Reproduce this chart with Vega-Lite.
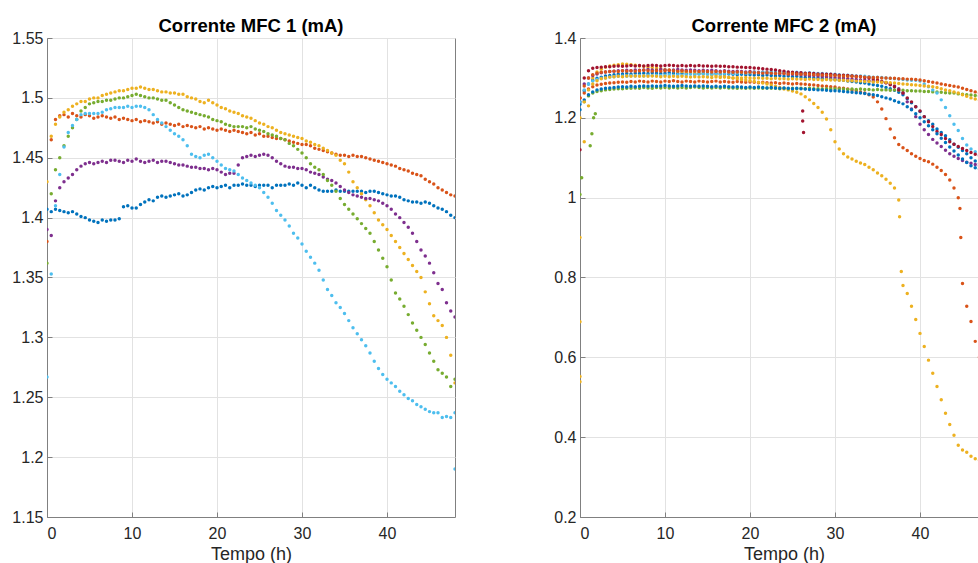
{
"$schema":"https://vega.github.io/schema/vega-lite/v6.json",
"background":"white",
"padding":{"left":11,"top":16,"right":0,"bottom":0},
"spacing":97,
"config":{
"font":"Liberation Sans",
"view":{"stroke":"#808080","strokeWidth":1},
"axis":{"labelFont":"Liberation Sans","labelFontSize":16,"labelColor":"#262626","titleFont":"Liberation Sans","titleFontSize":18,"titleFontWeight":"normal","titleColor":"#262626","domainColor":"#808080","tickColor":"#808080","gridColor":"#e2e2e2","tickSize":-5,"labelPadding":9},
"axisX":{"labelPadding":13},
"title":{"font":"Liberation Sans","fontSize":18.5,"fontWeight":"bold","color":"#000000","offset":-5}
},
"datasets":{
"m1":[
{"s":1,"t":0,"v":1.407},{"s":1,"t":0.5,"v":1.405},{"s":1,"t":1,"v":1.407},{"s":1,"t":1.5,"v":1.406},{"s":1,"t":2,"v":1.405},{"s":1,"t":2.5,"v":1.404},{"s":1,"t":3,"v":1.405},{"s":1,"t":3.5,"v":1.403},{"s":1,"t":4,"v":1.401},{"s":1,"t":4.5,"v":1.4},{"s":1,"t":5,"v":1.398},{"s":1,"t":5.5,"v":1.397},{"s":1,"t":6,"v":1.396},{"s":1,"t":6.5,"v":1.398},{"s":1,"t":7,"v":1.397},{"s":1,"t":7.5,"v":1.398},{"s":1,"t":8,"v":1.398},{"s":1,"t":8.5,"v":1.399},{"s":1,"t":9,"v":1.409},{"s":1,"t":9.5,"v":1.41},{"s":1,"t":10,"v":1.408},{"s":1,"t":10.5,"v":1.408},{"s":1,"t":11,"v":1.411},{"s":1,"t":11.5,"v":1.413},{"s":1,"t":12,"v":1.415},{"s":1,"t":12.5,"v":1.414},{"s":1,"t":13,"v":1.417},{"s":1,"t":13.5,"v":1.418},{"s":1,"t":14,"v":1.417},{"s":1,"t":14.5,"v":1.418},{"s":1,"t":15,"v":1.419},{"s":1,"t":15.5,"v":1.42},{"s":1,"t":16,"v":1.418},{"s":1,"t":16.5,"v":1.419},{"s":1,"t":17,"v":1.421},{"s":1,"t":17.5,"v":1.423},{"s":1,"t":18,"v":1.424},{"s":1,"t":18.5,"v":1.423},{"s":1,"t":19,"v":1.425},{"s":1,"t":19.5,"v":1.426},{"s":1,"t":20,"v":1.425},{"s":1,"t":20.5,"v":1.426},{"s":1,"t":21,"v":1.427},{"s":1,"t":21.5,"v":1.425},{"s":1,"t":22,"v":1.427},{"s":1,"t":22.5,"v":1.427},{"s":1,"t":23,"v":1.428},{"s":1,"t":23.5,"v":1.427},{"s":1,"t":24,"v":1.427},{"s":1,"t":24.5,"v":1.426},{"s":1,"t":25,"v":1.427},{"s":1,"t":25.5,"v":1.427},{"s":1,"t":26,"v":1.427},{"s":1,"t":26.5,"v":1.425},{"s":1,"t":27,"v":1.427},{"s":1,"t":27.5,"v":1.427},{"s":1,"t":28,"v":1.427},{"s":1,"t":28.5,"v":1.428},{"s":1,"t":29,"v":1.427},{"s":1,"t":29.5,"v":1.429},{"s":1,"t":30,"v":1.427},{"s":1,"t":30.5,"v":1.425},{"s":1,"t":31,"v":1.427},{"s":1,"t":31.5,"v":1.425},{"s":1,"t":32,"v":1.423},{"s":1,"t":32.5,"v":1.422},{"s":1,"t":33,"v":1.422},{"s":1,"t":33.5,"v":1.422},{"s":1,"t":34,"v":1.423},{"s":1,"t":34.5,"v":1.422},{"s":1,"t":35,"v":1.422},{"s":1,"t":35.5,"v":1.422},{"s":1,"t":36,"v":1.422},{"s":1,"t":36.5,"v":1.422},{"s":1,"t":37,"v":1.422},{"s":1,"t":37.5,"v":1.421},{"s":1,"t":38,"v":1.422},{"s":1,"t":38.5,"v":1.422},{"s":1,"t":39,"v":1.421},{"s":1,"t":39.5,"v":1.42},{"s":1,"t":40,"v":1.419},{"s":1,"t":40.5,"v":1.418},{"s":1,"t":41,"v":1.418},{"s":1,"t":41.5,"v":1.417},{"s":1,"t":42,"v":1.415},{"s":1,"t":42.5,"v":1.414},{"s":1,"t":43,"v":1.413},{"s":1,"t":43.5,"v":1.413},{"s":1,"t":44,"v":1.412},{"s":1,"t":44.5,"v":1.413},{"s":1,"t":45,"v":1.412},{"s":1,"t":45.5,"v":1.41},{"s":1,"t":46,"v":1.408},{"s":1,"t":46.5,"v":1.407},{"s":1,"t":47,"v":1.405},{"s":1,"t":47.5,"v":1.402},{"s":1,"t":48,"v":1.4},
{"s":2,"t":0,"v":1.38},{"s":2,"t":0.5,"v":1.465},{"s":2,"t":1,"v":1.482},{"s":2,"t":1.5,"v":1.485},{"s":2,"t":2,"v":1.486},{"s":2,"t":2.5,"v":1.484},{"s":2,"t":3,"v":1.487},{"s":2,"t":3.5,"v":1.485},{"s":2,"t":4,"v":1.484},{"s":2,"t":4.5,"v":1.486},{"s":2,"t":5,"v":1.485},{"s":2,"t":5.5,"v":1.483},{"s":2,"t":6,"v":1.484},{"s":2,"t":6.5,"v":1.485},{"s":2,"t":7,"v":1.484},{"s":2,"t":7.5,"v":1.483},{"s":2,"t":8,"v":1.484},{"s":2,"t":8.5,"v":1.482},{"s":2,"t":9,"v":1.483},{"s":2,"t":9.5,"v":1.482},{"s":2,"t":10,"v":1.481},{"s":2,"t":10.5,"v":1.482},{"s":2,"t":11,"v":1.48},{"s":2,"t":11.5,"v":1.481},{"s":2,"t":12,"v":1.48},{"s":2,"t":12.5,"v":1.479},{"s":2,"t":13,"v":1.48},{"s":2,"t":13.5,"v":1.478},{"s":2,"t":14,"v":1.479},{"s":2,"t":14.5,"v":1.478},{"s":2,"t":15,"v":1.477},{"s":2,"t":15.5,"v":1.478},{"s":2,"t":16,"v":1.476},{"s":2,"t":16.5,"v":1.477},{"s":2,"t":17,"v":1.476},{"s":2,"t":17.5,"v":1.475},{"s":2,"t":18,"v":1.476},{"s":2,"t":18.5,"v":1.474},{"s":2,"t":19,"v":1.475},{"s":2,"t":19.5,"v":1.474},{"s":2,"t":20,"v":1.473},{"s":2,"t":20.5,"v":1.474},{"s":2,"t":21,"v":1.473},{"s":2,"t":21.5,"v":1.472},{"s":2,"t":22,"v":1.473},{"s":2,"t":22.5,"v":1.472},{"s":2,"t":23,"v":1.471},{"s":2,"t":23.5,"v":1.47},{"s":2,"t":24,"v":1.471},{"s":2,"t":24.5,"v":1.469},{"s":2,"t":25,"v":1.47},{"s":2,"t":25.5,"v":1.468},{"s":2,"t":26,"v":1.468},{"s":2,"t":26.5,"v":1.467},{"s":2,"t":27,"v":1.466},{"s":2,"t":27.5,"v":1.466},{"s":2,"t":28,"v":1.465},{"s":2,"t":28.5,"v":1.464},{"s":2,"t":29,"v":1.463},{"s":2,"t":29.5,"v":1.462},{"s":2,"t":30,"v":1.461},{"s":2,"t":30.5,"v":1.461},{"s":2,"t":31,"v":1.46},{"s":2,"t":31.5,"v":1.458},{"s":2,"t":32,"v":1.457},{"s":2,"t":32.5,"v":1.456},{"s":2,"t":33,"v":1.455},{"s":2,"t":33.5,"v":1.454},{"s":2,"t":34,"v":1.453},{"s":2,"t":34.5,"v":1.452},{"s":2,"t":35,"v":1.452},{"s":2,"t":35.5,"v":1.451},{"s":2,"t":36,"v":1.452},{"s":2,"t":36.5,"v":1.451},{"s":2,"t":37,"v":1.451},{"s":2,"t":37.5,"v":1.45},{"s":2,"t":38,"v":1.449},{"s":2,"t":38.5,"v":1.448},{"s":2,"t":39,"v":1.447},{"s":2,"t":39.5,"v":1.446},{"s":2,"t":40,"v":1.445},{"s":2,"t":40.5,"v":1.444},{"s":2,"t":41,"v":1.443},{"s":2,"t":41.5,"v":1.441},{"s":2,"t":42,"v":1.44},{"s":2,"t":42.5,"v":1.439},{"s":2,"t":43,"v":1.437},{"s":2,"t":43.5,"v":1.436},{"s":2,"t":44,"v":1.435},{"s":2,"t":44.5,"v":1.432},{"s":2,"t":45,"v":1.43},{"s":2,"t":45.5,"v":1.428},{"s":2,"t":46,"v":1.425},{"s":2,"t":46.5,"v":1.423},{"s":2,"t":47,"v":1.421},{"s":2,"t":47.5,"v":1.419},{"s":2,"t":48,"v":1.418},
{"s":3,"t":0,"v":1.43},{"s":3,"t":0.5,"v":1.468},{"s":3,"t":1,"v":1.478},{"s":3,"t":1.5,"v":1.484},{"s":3,"t":2,"v":1.488},{"s":3,"t":2.5,"v":1.49},{"s":3,"t":3,"v":1.493},{"s":3,"t":3.5,"v":1.495},{"s":3,"t":4,"v":1.497},{"s":3,"t":4.5,"v":1.497},{"s":3,"t":5,"v":1.499},{"s":3,"t":5.5,"v":1.5},{"s":3,"t":6,"v":1.5},{"s":3,"t":6.5,"v":1.502},{"s":3,"t":7,"v":1.503},{"s":3,"t":7.5,"v":1.504},{"s":3,"t":8,"v":1.505},{"s":3,"t":8.5,"v":1.506},{"s":3,"t":9,"v":1.506},{"s":3,"t":9.5,"v":1.507},{"s":3,"t":10,"v":1.508},{"s":3,"t":10.5,"v":1.508},{"s":3,"t":11,"v":1.509},{"s":3,"t":11.5,"v":1.508},{"s":3,"t":12,"v":1.507},{"s":3,"t":12.5,"v":1.507},{"s":3,"t":13,"v":1.506},{"s":3,"t":13.5,"v":1.505},{"s":3,"t":14,"v":1.505},{"s":3,"t":14.5,"v":1.504},{"s":3,"t":15,"v":1.504},{"s":3,"t":15.5,"v":1.503},{"s":3,"t":16,"v":1.503},{"s":3,"t":16.5,"v":1.501},{"s":3,"t":17,"v":1.5},{"s":3,"t":17.5,"v":1.499},{"s":3,"t":18,"v":1.497},{"s":3,"t":18.5,"v":1.496},{"s":3,"t":19,"v":1.498},{"s":3,"t":19.5,"v":1.496},{"s":3,"t":20,"v":1.494},{"s":3,"t":20.5,"v":1.492},{"s":3,"t":21,"v":1.491},{"s":3,"t":21.5,"v":1.489},{"s":3,"t":22,"v":1.488},{"s":3,"t":22.5,"v":1.487},{"s":3,"t":23,"v":1.485},{"s":3,"t":23.5,"v":1.484},{"s":3,"t":24,"v":1.483},{"s":3,"t":24.5,"v":1.481},{"s":3,"t":25,"v":1.479},{"s":3,"t":25.5,"v":1.478},{"s":3,"t":26,"v":1.476},{"s":3,"t":26.5,"v":1.475},{"s":3,"t":27,"v":1.473},{"s":3,"t":27.5,"v":1.471},{"s":3,"t":28,"v":1.47},{"s":3,"t":28.5,"v":1.469},{"s":3,"t":29,"v":1.468},{"s":3,"t":29.5,"v":1.467},{"s":3,"t":30,"v":1.466},{"s":3,"t":30.5,"v":1.464},{"s":3,"t":31,"v":1.463},{"s":3,"t":31.5,"v":1.461},{"s":3,"t":32,"v":1.46},{"s":3,"t":32.5,"v":1.458},{"s":3,"t":33,"v":1.456},{"s":3,"t":33.5,"v":1.454},{"s":3,"t":34,"v":1.452},{"s":3,"t":34.5,"v":1.448},{"s":3,"t":35,"v":1.445},{"s":3,"t":35.5,"v":1.438},{"s":3,"t":36,"v":1.43},{"s":3,"t":36.5,"v":1.425},{"s":3,"t":37,"v":1.42},{"s":3,"t":37.5,"v":1.415},{"s":3,"t":38,"v":1.41},{"s":3,"t":38.5,"v":1.404},{"s":3,"t":39,"v":1.398},{"s":3,"t":39.5,"v":1.394},{"s":3,"t":40,"v":1.39},{"s":3,"t":40.5,"v":1.385},{"s":3,"t":41,"v":1.38},{"s":3,"t":41.5,"v":1.375},{"s":3,"t":42,"v":1.37},{"s":3,"t":42.5,"v":1.365},{"s":3,"t":43,"v":1.36},{"s":3,"t":43.5,"v":1.355},{"s":3,"t":44,"v":1.35},{"s":3,"t":44.5,"v":1.338},{"s":3,"t":45,"v":1.328},{"s":3,"t":45.5,"v":1.318},{"s":3,"t":46,"v":1.314},{"s":3,"t":46.5,"v":1.31},{"s":3,"t":47,"v":1.3},{"s":3,"t":47.5,"v":1.285},{"s":3,"t":48,"v":1.262},
{"s":4,"t":0,"v":1.39},{"s":4,"t":0.5,"v":1.385},{"s":4,"t":1,"v":1.414},{"s":4,"t":1.5,"v":1.425},{"s":4,"t":2,"v":1.43},{"s":4,"t":2.5,"v":1.433},{"s":4,"t":3,"v":1.436},{"s":4,"t":3.5,"v":1.44},{"s":4,"t":4,"v":1.443},{"s":4,"t":4.5,"v":1.445},{"s":4,"t":5,"v":1.446},{"s":4,"t":5.5,"v":1.445},{"s":4,"t":6,"v":1.446},{"s":4,"t":6.5,"v":1.447},{"s":4,"t":7,"v":1.446},{"s":4,"t":7.5,"v":1.448},{"s":4,"t":8,"v":1.448},{"s":4,"t":8.5,"v":1.447},{"s":4,"t":9,"v":1.446},{"s":4,"t":9.5,"v":1.448},{"s":4,"t":10,"v":1.447},{"s":4,"t":10.5,"v":1.449},{"s":4,"t":11,"v":1.447},{"s":4,"t":11.5,"v":1.446},{"s":4,"t":12,"v":1.447},{"s":4,"t":12.5,"v":1.448},{"s":4,"t":13,"v":1.446},{"s":4,"t":13.5,"v":1.447},{"s":4,"t":14,"v":1.447},{"s":4,"t":14.5,"v":1.446},{"s":4,"t":15,"v":1.445},{"s":4,"t":15.5,"v":1.444},{"s":4,"t":16,"v":1.444},{"s":4,"t":16.5,"v":1.443},{"s":4,"t":17,"v":1.442},{"s":4,"t":17.5,"v":1.442},{"s":4,"t":18,"v":1.441},{"s":4,"t":18.5,"v":1.441},{"s":4,"t":19,"v":1.44},{"s":4,"t":19.5,"v":1.441},{"s":4,"t":20,"v":1.44},{"s":4,"t":20.5,"v":1.438},{"s":4,"t":21,"v":1.436},{"s":4,"t":21.5,"v":1.437},{"s":4,"t":22,"v":1.437},{"s":4,"t":22.5,"v":1.444},{"s":4,"t":23,"v":1.45},{"s":4,"t":23.5,"v":1.451},{"s":4,"t":24,"v":1.452},{"s":4,"t":24.5,"v":1.451},{"s":4,"t":25,"v":1.452},{"s":4,"t":25.5,"v":1.453},{"s":4,"t":26,"v":1.452},{"s":4,"t":26.5,"v":1.45},{"s":4,"t":27,"v":1.447},{"s":4,"t":27.5,"v":1.445},{"s":4,"t":28,"v":1.443},{"s":4,"t":28.5,"v":1.442},{"s":4,"t":29,"v":1.442},{"s":4,"t":29.5,"v":1.441},{"s":4,"t":30,"v":1.441},{"s":4,"t":30.5,"v":1.44},{"s":4,"t":31,"v":1.438},{"s":4,"t":31.5,"v":1.437},{"s":4,"t":32,"v":1.436},{"s":4,"t":32.5,"v":1.434},{"s":4,"t":33,"v":1.432},{"s":4,"t":33.5,"v":1.431},{"s":4,"t":34,"v":1.429},{"s":4,"t":34.5,"v":1.426},{"s":4,"t":35,"v":1.423},{"s":4,"t":35.5,"v":1.421},{"s":4,"t":36,"v":1.419},{"s":4,"t":36.5,"v":1.418},{"s":4,"t":37,"v":1.417},{"s":4,"t":37.5,"v":1.416},{"s":4,"t":38,"v":1.416},{"s":4,"t":38.5,"v":1.415},{"s":4,"t":39,"v":1.414},{"s":4,"t":39.5,"v":1.412},{"s":4,"t":40,"v":1.41},{"s":4,"t":40.5,"v":1.407},{"s":4,"t":41,"v":1.403},{"s":4,"t":41.5,"v":1.4},{"s":4,"t":42,"v":1.396},{"s":4,"t":42.5,"v":1.392},{"s":4,"t":43,"v":1.387},{"s":4,"t":43.5,"v":1.38},{"s":4,"t":44,"v":1.373},{"s":4,"t":44.5,"v":1.368},{"s":4,"t":45,"v":1.362},{"s":4,"t":45.5,"v":1.354},{"s":4,"t":46,"v":1.345},{"s":4,"t":46.5,"v":1.34},{"s":4,"t":47,"v":1.329},{"s":4,"t":47.5,"v":1.322},{"s":4,"t":48,"v":1.317},
{"s":5,"t":0,"v":1.362},{"s":5,"t":0.5,"v":1.42},{"s":5,"t":1,"v":1.44},{"s":5,"t":1.5,"v":1.45},{"s":5,"t":2,"v":1.46},{"s":5,"t":2.5,"v":1.468},{"s":5,"t":3,"v":1.475},{"s":5,"t":3.5,"v":1.482},{"s":5,"t":4,"v":1.489},{"s":5,"t":4.5,"v":1.492},{"s":5,"t":5,"v":1.495},{"s":5,"t":5.5,"v":1.496},{"s":5,"t":6,"v":1.497},{"s":5,"t":6.5,"v":1.497},{"s":5,"t":7,"v":1.498},{"s":5,"t":7.5,"v":1.498},{"s":5,"t":8,"v":1.499},{"s":5,"t":8.5,"v":1.5},{"s":5,"t":9,"v":1.5},{"s":5,"t":9.5,"v":1.501},{"s":5,"t":10,"v":1.502},{"s":5,"t":10.5,"v":1.503},{"s":5,"t":11,"v":1.502},{"s":5,"t":11.5,"v":1.501},{"s":5,"t":12,"v":1.5},{"s":5,"t":12.5,"v":1.5},{"s":5,"t":13,"v":1.499},{"s":5,"t":13.5,"v":1.498},{"s":5,"t":14,"v":1.498},{"s":5,"t":14.5,"v":1.496},{"s":5,"t":15,"v":1.494},{"s":5,"t":15.5,"v":1.492},{"s":5,"t":16,"v":1.49},{"s":5,"t":16.5,"v":1.489},{"s":5,"t":17,"v":1.488},{"s":5,"t":17.5,"v":1.487},{"s":5,"t":18,"v":1.486},{"s":5,"t":18.5,"v":1.485},{"s":5,"t":19,"v":1.484},{"s":5,"t":19.5,"v":1.482},{"s":5,"t":20,"v":1.481},{"s":5,"t":20.5,"v":1.48},{"s":5,"t":21,"v":1.478},{"s":5,"t":21.5,"v":1.477},{"s":5,"t":22,"v":1.476},{"s":5,"t":22.5,"v":1.476},{"s":5,"t":23,"v":1.476},{"s":5,"t":23.5,"v":1.475},{"s":5,"t":24,"v":1.476},{"s":5,"t":24.5,"v":1.474},{"s":5,"t":25,"v":1.473},{"s":5,"t":25.5,"v":1.472},{"s":5,"t":26,"v":1.47},{"s":5,"t":26.5,"v":1.469},{"s":5,"t":27,"v":1.468},{"s":5,"t":27.5,"v":1.466},{"s":5,"t":28,"v":1.465},{"s":5,"t":28.5,"v":1.462},{"s":5,"t":29,"v":1.46},{"s":5,"t":29.5,"v":1.457},{"s":5,"t":30,"v":1.454},{"s":5,"t":30.5,"v":1.45},{"s":5,"t":31,"v":1.445},{"s":5,"t":31.5,"v":1.442},{"s":5,"t":32,"v":1.44},{"s":5,"t":32.5,"v":1.436},{"s":5,"t":33,"v":1.431},{"s":5,"t":33.5,"v":1.427},{"s":5,"t":34,"v":1.422},{"s":5,"t":34.5,"v":1.416},{"s":5,"t":35,"v":1.411},{"s":5,"t":35.5,"v":1.407},{"s":5,"t":36,"v":1.403},{"s":5,"t":36.5,"v":1.399},{"s":5,"t":37,"v":1.395},{"s":5,"t":37.5,"v":1.391},{"s":5,"t":38,"v":1.387},{"s":5,"t":38.5,"v":1.38},{"s":5,"t":39,"v":1.373},{"s":5,"t":39.5,"v":1.366},{"s":5,"t":40,"v":1.359},{"s":5,"t":40.5,"v":1.348},{"s":5,"t":41,"v":1.337},{"s":5,"t":41.5,"v":1.332},{"s":5,"t":42,"v":1.326},{"s":5,"t":42.5,"v":1.319},{"s":5,"t":43,"v":1.312},{"s":5,"t":43.5,"v":1.306},{"s":5,"t":44,"v":1.3},{"s":5,"t":44.5,"v":1.294},{"s":5,"t":45,"v":1.287},{"s":5,"t":45.5,"v":1.28},{"s":5,"t":46,"v":1.273},{"s":5,"t":46.5,"v":1.27},{"s":5,"t":47,"v":1.267},{"s":5,"t":47.5,"v":1.259},{"s":5,"t":48,"v":1.265},
{"s":6,"t":0,"v":1.267},{"s":6,"t":0.5,"v":1.353},{"s":6,"t":1,"v":1.41},{"s":6,"t":1.5,"v":1.436},{"s":6,"t":2,"v":1.459},{"s":6,"t":2.5,"v":1.471},{"s":6,"t":3,"v":1.477},{"s":6,"t":3.5,"v":1.482},{"s":6,"t":4,"v":1.486},{"s":6,"t":4.5,"v":1.487},{"s":6,"t":5,"v":1.487},{"s":6,"t":5.5,"v":1.487},{"s":6,"t":6,"v":1.487},{"s":6,"t":6.5,"v":1.488},{"s":6,"t":7,"v":1.49},{"s":6,"t":7.5,"v":1.491},{"s":6,"t":8,"v":1.492},{"s":6,"t":8.5,"v":1.492},{"s":6,"t":9,"v":1.492},{"s":6,"t":9.5,"v":1.493},{"s":6,"t":10,"v":1.492},{"s":6,"t":10.5,"v":1.493},{"s":6,"t":11,"v":1.493},{"s":6,"t":11.5,"v":1.492},{"s":6,"t":12,"v":1.49},{"s":6,"t":12.5,"v":1.486},{"s":6,"t":13,"v":1.482},{"s":6,"t":13.5,"v":1.479},{"s":6,"t":14,"v":1.476},{"s":6,"t":14.5,"v":1.473},{"s":6,"t":15,"v":1.47},{"s":6,"t":15.5,"v":1.468},{"s":6,"t":16,"v":1.465},{"s":6,"t":16.5,"v":1.46},{"s":6,"t":17,"v":1.453},{"s":6,"t":17.5,"v":1.451},{"s":6,"t":18,"v":1.45},{"s":6,"t":18.5,"v":1.452},{"s":6,"t":19,"v":1.453},{"s":6,"t":19.5,"v":1.45},{"s":6,"t":20,"v":1.447},{"s":6,"t":20.5,"v":1.444},{"s":6,"t":21,"v":1.441},{"s":6,"t":21.5,"v":1.44},{"s":6,"t":22,"v":1.439},{"s":6,"t":22.5,"v":1.436},{"s":6,"t":23,"v":1.433},{"s":6,"t":23.5,"v":1.431},{"s":6,"t":24,"v":1.429},{"s":6,"t":24.5,"v":1.427},{"s":6,"t":25,"v":1.425},{"s":6,"t":25.5,"v":1.421},{"s":6,"t":26,"v":1.417},{"s":6,"t":26.5,"v":1.412},{"s":6,"t":27,"v":1.406},{"s":6,"t":27.5,"v":1.402},{"s":6,"t":28,"v":1.398},{"s":6,"t":28.5,"v":1.393},{"s":6,"t":29,"v":1.387},{"s":6,"t":29.5,"v":1.383},{"s":6,"t":30,"v":1.378},{"s":6,"t":30.5,"v":1.372},{"s":6,"t":31,"v":1.367},{"s":6,"t":31.5,"v":1.362},{"s":6,"t":32,"v":1.356},{"s":6,"t":32.5,"v":1.348},{"s":6,"t":33,"v":1.34},{"s":6,"t":33.5,"v":1.335},{"s":6,"t":34,"v":1.329},{"s":6,"t":34.5,"v":1.325},{"s":6,"t":35,"v":1.32},{"s":6,"t":35.5,"v":1.314},{"s":6,"t":36,"v":1.308},{"s":6,"t":36.5,"v":1.303},{"s":6,"t":37,"v":1.298},{"s":6,"t":37.5,"v":1.293},{"s":6,"t":38,"v":1.287},{"s":6,"t":38.5,"v":1.28},{"s":6,"t":39,"v":1.274},{"s":6,"t":39.5,"v":1.269},{"s":6,"t":40,"v":1.265},{"s":6,"t":40.5,"v":1.262},{"s":6,"t":41,"v":1.259},{"s":6,"t":41.5,"v":1.255},{"s":6,"t":42,"v":1.252},{"s":6,"t":42.5,"v":1.249},{"s":6,"t":43,"v":1.247},{"s":6,"t":43.5,"v":1.244},{"s":6,"t":44,"v":1.242},{"s":6,"t":44.5,"v":1.24},{"s":6,"t":45,"v":1.238},{"s":6,"t":45.5,"v":1.237},{"s":6,"t":46,"v":1.237},{"s":6,"t":46.5,"v":1.233},{"s":6,"t":47,"v":1.234},{"s":6,"t":47.5,"v":1.233},{"s":6,"t":48,"v":1.237},{"s":6,"t":48,"v":1.19}
],
"m2":[
{"s":1,"t":0,"v":1.234},{"s":1,"t":0.5,"v":1.268},{"s":1,"t":1,"v":1.285},{"s":1,"t":1.5,"v":1.294},{"s":1,"t":2,"v":1.299},{"s":1,"t":2.5,"v":1.302},{"s":1,"t":3,"v":1.305},{"s":1,"t":3.5,"v":1.306},{"s":1,"t":4,"v":1.308},{"s":1,"t":4.5,"v":1.309},{"s":1,"t":5,"v":1.31},{"s":1,"t":5.5,"v":1.311},{"s":1,"t":6,"v":1.31},{"s":1,"t":6.5,"v":1.312},{"s":1,"t":7,"v":1.311},{"s":1,"t":7.5,"v":1.312},{"s":1,"t":8,"v":1.311},{"s":1,"t":8.5,"v":1.313},{"s":1,"t":9,"v":1.312},{"s":1,"t":9.5,"v":1.311},{"s":1,"t":10,"v":1.312},{"s":1,"t":10.5,"v":1.313},{"s":1,"t":11,"v":1.312},{"s":1,"t":11.5,"v":1.311},{"s":1,"t":12,"v":1.312},{"s":1,"t":12.5,"v":1.311},{"s":1,"t":13,"v":1.312},{"s":1,"t":13.5,"v":1.31},{"s":1,"t":14,"v":1.311},{"s":1,"t":14.5,"v":1.312},{"s":1,"t":15,"v":1.311},{"s":1,"t":15.5,"v":1.31},{"s":1,"t":16,"v":1.311},{"s":1,"t":16.5,"v":1.31},{"s":1,"t":17,"v":1.309},{"s":1,"t":17.5,"v":1.31},{"s":1,"t":18,"v":1.309},{"s":1,"t":18.5,"v":1.308},{"s":1,"t":19,"v":1.309},{"s":1,"t":19.5,"v":1.308},{"s":1,"t":20,"v":1.308},{"s":1,"t":20.5,"v":1.307},{"s":1,"t":21,"v":1.308},{"s":1,"t":21.5,"v":1.306},{"s":1,"t":22,"v":1.307},{"s":1,"t":22.5,"v":1.306},{"s":1,"t":23,"v":1.305},{"s":1,"t":23.5,"v":1.306},{"s":1,"t":24,"v":1.304},{"s":1,"t":24.5,"v":1.305},{"s":1,"t":25,"v":1.303},{"s":1,"t":25.5,"v":1.304},{"s":1,"t":26,"v":1.302},{"s":1,"t":26.5,"v":1.301},{"s":1,"t":27,"v":1.302},{"s":1,"t":27.5,"v":1.3},{"s":1,"t":28,"v":1.3},{"s":1,"t":28.5,"v":1.299},{"s":1,"t":29,"v":1.298},{"s":1,"t":29.5,"v":1.297},{"s":1,"t":30,"v":1.296},{"s":1,"t":30.5,"v":1.295},{"s":1,"t":31,"v":1.294},{"s":1,"t":31.5,"v":1.292},{"s":1,"t":32,"v":1.291},{"s":1,"t":32.5,"v":1.29},{"s":1,"t":33,"v":1.288},{"s":1,"t":33.5,"v":1.287},{"s":1,"t":34,"v":1.285},{"s":1,"t":34.5,"v":1.283},{"s":1,"t":35,"v":1.281},{"s":1,"t":35.5,"v":1.279},{"s":1,"t":36,"v":1.276},{"s":1,"t":36.5,"v":1.273},{"s":1,"t":37,"v":1.269},{"s":1,"t":37.5,"v":1.264},{"s":1,"t":38,"v":1.258},{"s":1,"t":38.5,"v":1.248},{"s":1,"t":39,"v":1.238},{"s":1,"t":39.5,"v":1.228},{"s":1,"t":40,"v":1.216},{"s":1,"t":40.5,"v":1.203},{"s":1,"t":41,"v":1.193},{"s":1,"t":41.5,"v":1.184},{"s":1,"t":42,"v":1.172},{"s":1,"t":42.5,"v":1.163},{"s":1,"t":43,"v":1.155},{"s":1,"t":43.5,"v":1.145},{"s":1,"t":44,"v":1.134},{"s":1,"t":44.5,"v":1.126},{"s":1,"t":45,"v":1.118},{"s":1,"t":45.5,"v":1.11},{"s":1,"t":46,"v":1.1},{"s":1,"t":46.5,"v":1.092},{"s":1,"t":47,"v":1.085},{"s":1,"t":47.5,"v":1.08},{"s":1,"t":48,"v":1.075},
{"s":2,"t":0,"v":1.25},{"s":2,"t":0.5,"v":1.262},{"s":2,"t":1,"v":1.272},{"s":2,"t":1.5,"v":1.278},{"s":2,"t":2,"v":1.282},{"s":2,"t":2.5,"v":1.284},{"s":2,"t":3,"v":1.286},{"s":2,"t":3.5,"v":1.287},{"s":2,"t":4,"v":1.288},{"s":2,"t":4.5,"v":1.289},{"s":2,"t":5,"v":1.29},{"s":2,"t":5.5,"v":1.289},{"s":2,"t":6,"v":1.291},{"s":2,"t":6.5,"v":1.29},{"s":2,"t":7,"v":1.292},{"s":2,"t":7.5,"v":1.291},{"s":2,"t":8,"v":1.29},{"s":2,"t":8.5,"v":1.292},{"s":2,"t":9,"v":1.291},{"s":2,"t":9.5,"v":1.29},{"s":2,"t":10,"v":1.292},{"s":2,"t":10.5,"v":1.291},{"s":2,"t":11,"v":1.293},{"s":2,"t":11.5,"v":1.291},{"s":2,"t":12,"v":1.29},{"s":2,"t":12.5,"v":1.292},{"s":2,"t":13,"v":1.291},{"s":2,"t":13.5,"v":1.29},{"s":2,"t":14,"v":1.292},{"s":2,"t":14.5,"v":1.291},{"s":2,"t":15,"v":1.29},{"s":2,"t":15.5,"v":1.291},{"s":2,"t":16,"v":1.292},{"s":2,"t":16.5,"v":1.29},{"s":2,"t":17,"v":1.291},{"s":2,"t":17.5,"v":1.29},{"s":2,"t":18,"v":1.289},{"s":2,"t":18.5,"v":1.291},{"s":2,"t":19,"v":1.29},{"s":2,"t":19.5,"v":1.289},{"s":2,"t":20,"v":1.29},{"s":2,"t":20.5,"v":1.289},{"s":2,"t":21,"v":1.288},{"s":2,"t":21.5,"v":1.289},{"s":2,"t":22,"v":1.288},{"s":2,"t":22.5,"v":1.287},{"s":2,"t":23,"v":1.288},{"s":2,"t":23.5,"v":1.286},{"s":2,"t":24,"v":1.287},{"s":2,"t":24.5,"v":1.286},{"s":2,"t":25,"v":1.285},{"s":2,"t":25.5,"v":1.286},{"s":2,"t":26,"v":1.285},{"s":2,"t":26.5,"v":1.284},{"s":2,"t":27,"v":1.283},{"s":2,"t":27.5,"v":1.282},{"s":2,"t":28,"v":1.281},{"s":2,"t":28.5,"v":1.28},{"s":2,"t":29,"v":1.279},{"s":2,"t":29.5,"v":1.278},{"s":2,"t":30,"v":1.277},{"s":2,"t":30.5,"v":1.275},{"s":2,"t":31,"v":1.274},{"s":2,"t":31.5,"v":1.272},{"s":2,"t":32,"v":1.27},{"s":2,"t":32.5,"v":1.268},{"s":2,"t":33,"v":1.265},{"s":2,"t":33.5,"v":1.262},{"s":2,"t":34,"v":1.258},{"s":2,"t":34.5,"v":1.252},{"s":2,"t":35,"v":1.24},{"s":2,"t":35.5,"v":1.222},{"s":2,"t":36,"v":1.198},{"s":2,"t":36.5,"v":1.172},{"s":2,"t":37,"v":1.15},{"s":2,"t":37.5,"v":1.133},{"s":2,"t":38,"v":1.125},{"s":2,"t":38.5,"v":1.118},{"s":2,"t":39,"v":1.11},{"s":2,"t":39.5,"v":1.104},{"s":2,"t":40,"v":1.098},{"s":2,"t":40.5,"v":1.093},{"s":2,"t":41,"v":1.09},{"s":2,"t":41.5,"v":1.084},{"s":2,"t":42,"v":1.076},{"s":2,"t":42.5,"v":1.068},{"s":2,"t":43,"v":1.058},{"s":2,"t":43.5,"v":1.044},{"s":2,"t":44,"v":1.024},{"s":2,"t":44.5,"v":1.0},{"s":2,"t":44.7,"v":0.973},{"s":2,"t":44.8,"v":0.9},{"s":2,"t":45,"v":0.785},{"s":2,"t":45.5,"v":0.728},{"s":2,"t":46,"v":0.69},{"s":2,"t":46.5,"v":0.64},{"s":2,"t":47,"v":0.6},{"s":2,"t":47.5,"v":0.56},{"s":2,"t":48,"v":0.52},
{"s":3,"t":0,"v":0.9},{"s":3,"t":0,"v":0.689},{"s":3,"t":0,"v":0.552},{"s":3,"t":0,"v":0.539},{"s":3,"t":0.5,"v":1.14},{"s":3,"t":1,"v":1.23},{"s":3,"t":1.5,"v":1.3},{"s":3,"t":2,"v":1.315},{"s":3,"t":2.5,"v":1.322},{"s":3,"t":3,"v":1.327},{"s":3,"t":3.5,"v":1.33},{"s":3,"t":4,"v":1.332},{"s":3,"t":4.5,"v":1.333},{"s":3,"t":5,"v":1.335},{"s":3,"t":5.5,"v":1.334},{"s":3,"t":6,"v":1.333},{"s":3,"t":6.5,"v":1.332},{"s":3,"t":7,"v":1.33},{"s":3,"t":7.5,"v":1.329},{"s":3,"t":8,"v":1.327},{"s":3,"t":8.5,"v":1.326},{"s":3,"t":9,"v":1.324},{"s":3,"t":9.5,"v":1.323},{"s":3,"t":10,"v":1.321},{"s":3,"t":10.5,"v":1.32},{"s":3,"t":11,"v":1.318},{"s":3,"t":11.5,"v":1.317},{"s":3,"t":12,"v":1.316},{"s":3,"t":12.5,"v":1.314},{"s":3,"t":13,"v":1.313},{"s":3,"t":13.5,"v":1.312},{"s":3,"t":14,"v":1.311},{"s":3,"t":14.5,"v":1.31},{"s":3,"t":15,"v":1.309},{"s":3,"t":15.5,"v":1.307},{"s":3,"t":16,"v":1.306},{"s":3,"t":16.5,"v":1.304},{"s":3,"t":17,"v":1.303},{"s":3,"t":17.5,"v":1.301},{"s":3,"t":18,"v":1.3},{"s":3,"t":18.5,"v":1.298},{"s":3,"t":19,"v":1.296},{"s":3,"t":19.5,"v":1.295},{"s":3,"t":20,"v":1.293},{"s":3,"t":20.5,"v":1.291},{"s":3,"t":21,"v":1.289},{"s":3,"t":21.5,"v":1.287},{"s":3,"t":22,"v":1.285},{"s":3,"t":22.5,"v":1.282},{"s":3,"t":23,"v":1.279},{"s":3,"t":23.5,"v":1.276},{"s":3,"t":24,"v":1.272},{"s":3,"t":24.5,"v":1.27},{"s":3,"t":25,"v":1.267},{"s":3,"t":25.5,"v":1.264},{"s":3,"t":26,"v":1.26},{"s":3,"t":26.5,"v":1.253},{"s":3,"t":27,"v":1.245},{"s":3,"t":27.5,"v":1.236},{"s":3,"t":28,"v":1.226},{"s":3,"t":28.5,"v":1.214},{"s":3,"t":29,"v":1.197},{"s":3,"t":29.5,"v":1.17},{"s":3,"t":30,"v":1.14},{"s":3,"t":30.5,"v":1.122},{"s":3,"t":31,"v":1.11},{"s":3,"t":31.5,"v":1.102},{"s":3,"t":32,"v":1.097},{"s":3,"t":32.5,"v":1.091},{"s":3,"t":33,"v":1.087},{"s":3,"t":33.5,"v":1.083},{"s":3,"t":34,"v":1.076},{"s":3,"t":34.5,"v":1.07},{"s":3,"t":35,"v":1.062},{"s":3,"t":35.5,"v":1.055},{"s":3,"t":36,"v":1.046},{"s":3,"t":36.5,"v":1.036},{"s":3,"t":37,"v":1.024},{"s":3,"t":37.5,"v":0.994},{"s":3,"t":37.6,"v":0.952},{"s":3,"t":37.8,"v":0.815},{"s":3,"t":38,"v":0.78},{"s":3,"t":38.5,"v":0.76},{"s":3,"t":39,"v":0.728},{"s":3,"t":39.5,"v":0.695},{"s":3,"t":40,"v":0.66},{"s":3,"t":40.5,"v":0.627},{"s":3,"t":41,"v":0.593},{"s":3,"t":41.5,"v":0.56},{"s":3,"t":42,"v":0.527},{"s":3,"t":42.5,"v":0.494},{"s":3,"t":43,"v":0.46},{"s":3,"t":43.5,"v":0.432},{"s":3,"t":44,"v":0.405},{"s":3,"t":44.5,"v":0.38},{"s":3,"t":45,"v":0.368},{"s":3,"t":45.5,"v":0.362},{"s":3,"t":46,"v":0.352},{"s":3,"t":46.5,"v":0.346},{"s":3,"t":47,"v":0.342},{"s":3,"t":47.5,"v":0.339},{"s":3,"t":48,"v":0.336},
{"s":4,"t":0,"v":1.24},{"s":4,"t":0.5,"v":1.285},{"s":4,"t":1,"v":1.3},{"s":4,"t":1.5,"v":1.306},{"s":4,"t":2,"v":1.31},{"s":4,"t":2.5,"v":1.313},{"s":4,"t":3,"v":1.315},{"s":4,"t":3.5,"v":1.316},{"s":4,"t":4,"v":1.317},{"s":4,"t":4.5,"v":1.318},{"s":4,"t":5,"v":1.318},{"s":4,"t":5.5,"v":1.319},{"s":4,"t":6,"v":1.318},{"s":4,"t":6.5,"v":1.32},{"s":4,"t":7,"v":1.319},{"s":4,"t":7.5,"v":1.32},{"s":4,"t":8,"v":1.321},{"s":4,"t":8.5,"v":1.32},{"s":4,"t":9,"v":1.319},{"s":4,"t":9.5,"v":1.321},{"s":4,"t":10,"v":1.32},{"s":4,"t":10.5,"v":1.319},{"s":4,"t":11,"v":1.32},{"s":4,"t":11.5,"v":1.321},{"s":4,"t":12,"v":1.32},{"s":4,"t":12.5,"v":1.319},{"s":4,"t":13,"v":1.32},{"s":4,"t":13.5,"v":1.319},{"s":4,"t":14,"v":1.318},{"s":4,"t":14.5,"v":1.319},{"s":4,"t":15,"v":1.318},{"s":4,"t":15.5,"v":1.319},{"s":4,"t":16,"v":1.318},{"s":4,"t":16.5,"v":1.317},{"s":4,"t":17,"v":1.318},{"s":4,"t":17.5,"v":1.317},{"s":4,"t":18,"v":1.316},{"s":4,"t":18.5,"v":1.317},{"s":4,"t":19,"v":1.316},{"s":4,"t":19.5,"v":1.315},{"s":4,"t":20,"v":1.316},{"s":4,"t":20.5,"v":1.315},{"s":4,"t":21,"v":1.314},{"s":4,"t":21.5,"v":1.314},{"s":4,"t":22,"v":1.313},{"s":4,"t":22.5,"v":1.313},{"s":4,"t":23,"v":1.312},{"s":4,"t":23.5,"v":1.311},{"s":4,"t":24,"v":1.311},{"s":4,"t":24.5,"v":1.31},{"s":4,"t":25,"v":1.309},{"s":4,"t":25.5,"v":1.309},{"s":4,"t":26,"v":1.308},{"s":4,"t":26.5,"v":1.307},{"s":4,"t":27,"v":1.306},{"s":4,"t":27.5,"v":1.306},{"s":4,"t":28,"v":1.305},{"s":4,"t":28.5,"v":1.304},{"s":4,"t":29,"v":1.303},{"s":4,"t":29.5,"v":1.302},{"s":4,"t":30,"v":1.301},{"s":4,"t":30.5,"v":1.3},{"s":4,"t":31,"v":1.299},{"s":4,"t":31.5,"v":1.298},{"s":4,"t":32,"v":1.297},{"s":4,"t":32.5,"v":1.296},{"s":4,"t":33,"v":1.295},{"s":4,"t":33.5,"v":1.294},{"s":4,"t":34,"v":1.293},{"s":4,"t":34.5,"v":1.292},{"s":4,"t":35,"v":1.291},{"s":4,"t":35.5,"v":1.29},{"s":4,"t":36,"v":1.288},{"s":4,"t":36.5,"v":1.285},{"s":4,"t":37,"v":1.28},{"s":4,"t":37.5,"v":1.273},{"s":4,"t":38,"v":1.262},{"s":4,"t":38.5,"v":1.24},{"s":4,"t":39,"v":1.222},{"s":4,"t":39.5,"v":1.203},{"s":4,"t":40,"v":1.184},{"s":4,"t":40.5,"v":1.17},{"s":4,"t":41,"v":1.158},{"s":4,"t":41.5,"v":1.146},{"s":4,"t":42,"v":1.137},{"s":4,"t":42.5,"v":1.128},{"s":4,"t":43,"v":1.119},{"s":4,"t":43.5,"v":1.11},{"s":4,"t":44,"v":1.104},{"s":4,"t":44.5,"v":1.098},{"s":4,"t":45,"v":1.093},{"s":4,"t":45.5,"v":1.089},{"s":4,"t":46,"v":1.086},{"s":4,"t":46.5,"v":1.083},{"s":4,"t":47,"v":1.08},{"s":4,"t":47.5,"v":1.078},{"s":4,"t":48,"v":1.075},
{"s":5,"t":0,"v":1.008},{"s":5,"t":0.2,"v":1.05},{"s":5,"t":1.2,"v":1.13},{"s":5,"t":1.4,"v":1.16},{"s":5,"t":1.6,"v":1.2},{"s":5,"t":1.8,"v":1.21},{"s":5,"t":0.5,"v":1.24},{"s":5,"t":1,"v":1.255},{"s":5,"t":1.5,"v":1.262},{"s":5,"t":2,"v":1.266},{"s":5,"t":2.5,"v":1.268},{"s":5,"t":3,"v":1.27},{"s":5,"t":3.5,"v":1.271},{"s":5,"t":4,"v":1.272},{"s":5,"t":4.5,"v":1.273},{"s":5,"t":5,"v":1.273},{"s":5,"t":5.5,"v":1.274},{"s":5,"t":6,"v":1.274},{"s":5,"t":6.5,"v":1.275},{"s":5,"t":7,"v":1.274},{"s":5,"t":7.5,"v":1.276},{"s":5,"t":8,"v":1.275},{"s":5,"t":8.5,"v":1.274},{"s":5,"t":9,"v":1.276},{"s":5,"t":9.5,"v":1.275},{"s":5,"t":10,"v":1.276},{"s":5,"t":10.5,"v":1.275},{"s":5,"t":11,"v":1.276},{"s":5,"t":11.5,"v":1.275},{"s":5,"t":12,"v":1.276},{"s":5,"t":12.5,"v":1.275},{"s":5,"t":13,"v":1.276},{"s":5,"t":13.5,"v":1.277},{"s":5,"t":14,"v":1.276},{"s":5,"t":14.5,"v":1.275},{"s":5,"t":15,"v":1.276},{"s":5,"t":15.5,"v":1.275},{"s":5,"t":16,"v":1.276},{"s":5,"t":16.5,"v":1.275},{"s":5,"t":17,"v":1.276},{"s":5,"t":17.5,"v":1.275},{"s":5,"t":18,"v":1.275},{"s":5,"t":18.5,"v":1.274},{"s":5,"t":19,"v":1.275},{"s":5,"t":19.5,"v":1.274},{"s":5,"t":20,"v":1.275},{"s":5,"t":20.5,"v":1.274},{"s":5,"t":21,"v":1.275},{"s":5,"t":21.5,"v":1.274},{"s":5,"t":22,"v":1.275},{"s":5,"t":22.5,"v":1.274},{"s":5,"t":23,"v":1.274},{"s":5,"t":23.5,"v":1.273},{"s":5,"t":24,"v":1.274},{"s":5,"t":24.5,"v":1.273},{"s":5,"t":25,"v":1.274},{"s":5,"t":25.5,"v":1.273},{"s":5,"t":26,"v":1.274},{"s":5,"t":26.5,"v":1.273},{"s":5,"t":27,"v":1.274},{"s":5,"t":27.5,"v":1.273},{"s":5,"t":28,"v":1.273},{"s":5,"t":28.5,"v":1.272},{"s":5,"t":29,"v":1.273},{"s":5,"t":29.5,"v":1.272},{"s":5,"t":30,"v":1.273},{"s":5,"t":30.5,"v":1.272},{"s":5,"t":31,"v":1.272},{"s":5,"t":31.5,"v":1.271},{"s":5,"t":32,"v":1.272},{"s":5,"t":32.5,"v":1.271},{"s":5,"t":33,"v":1.272},{"s":5,"t":33.5,"v":1.271},{"s":5,"t":34,"v":1.271},{"s":5,"t":34.5,"v":1.27},{"s":5,"t":35,"v":1.271},{"s":5,"t":35.5,"v":1.27},{"s":5,"t":36,"v":1.27},{"s":5,"t":36.5,"v":1.269},{"s":5,"t":37,"v":1.27},{"s":5,"t":37.5,"v":1.269},{"s":5,"t":38,"v":1.269},{"s":5,"t":38.5,"v":1.268},{"s":5,"t":39,"v":1.268},{"s":5,"t":39.5,"v":1.267},{"s":5,"t":40,"v":1.267},{"s":5,"t":40.5,"v":1.266},{"s":5,"t":41,"v":1.266},{"s":5,"t":41.5,"v":1.265},{"s":5,"t":42,"v":1.265},{"s":5,"t":42.5,"v":1.264},{"s":5,"t":43,"v":1.263},{"s":5,"t":43.5,"v":1.262},{"s":5,"t":44,"v":1.262},{"s":5,"t":44.5,"v":1.26},{"s":5,"t":45,"v":1.259},{"s":5,"t":45.5,"v":1.258},{"s":5,"t":46,"v":1.257},{"s":5,"t":46.5,"v":1.256},{"s":5,"t":47,"v":1.255},{"s":5,"t":47.5,"v":1.254},{"s":5,"t":48,"v":1.253},
{"s":6,"t":0,"v":1.24},{"s":6,"t":0.5,"v":1.27},{"s":6,"t":1,"v":1.285},{"s":6,"t":1.5,"v":1.292},{"s":6,"t":2,"v":1.296},{"s":6,"t":2.5,"v":1.299},{"s":6,"t":3,"v":1.3},{"s":6,"t":3.5,"v":1.302},{"s":6,"t":4,"v":1.303},{"s":6,"t":4.5,"v":1.304},{"s":6,"t":5,"v":1.305},{"s":6,"t":5.5,"v":1.304},{"s":6,"t":6,"v":1.306},{"s":6,"t":6.5,"v":1.305},{"s":6,"t":7,"v":1.306},{"s":6,"t":7.5,"v":1.305},{"s":6,"t":8,"v":1.307},{"s":6,"t":8.5,"v":1.306},{"s":6,"t":9,"v":1.307},{"s":6,"t":9.5,"v":1.306},{"s":6,"t":10,"v":1.307},{"s":6,"t":10.5,"v":1.308},{"s":6,"t":11,"v":1.307},{"s":6,"t":11.5,"v":1.308},{"s":6,"t":12,"v":1.307},{"s":6,"t":12.5,"v":1.308},{"s":6,"t":13,"v":1.309},{"s":6,"t":13.5,"v":1.308},{"s":6,"t":14,"v":1.309},{"s":6,"t":14.5,"v":1.31},{"s":6,"t":15,"v":1.309},{"s":6,"t":15.5,"v":1.31},{"s":6,"t":16,"v":1.311},{"s":6,"t":16.5,"v":1.31},{"s":6,"t":17,"v":1.311},{"s":6,"t":17.5,"v":1.312},{"s":6,"t":18,"v":1.311},{"s":6,"t":18.5,"v":1.312},{"s":6,"t":19,"v":1.313},{"s":6,"t":19.5,"v":1.312},{"s":6,"t":20,"v":1.313},{"s":6,"t":20.5,"v":1.314},{"s":6,"t":21,"v":1.313},{"s":6,"t":21.5,"v":1.314},{"s":6,"t":22,"v":1.314},{"s":6,"t":22.5,"v":1.315},{"s":6,"t":23,"v":1.314},{"s":6,"t":23.5,"v":1.315},{"s":6,"t":24,"v":1.314},{"s":6,"t":24.5,"v":1.314},{"s":6,"t":25,"v":1.313},{"s":6,"t":25.5,"v":1.314},{"s":6,"t":26,"v":1.313},{"s":6,"t":26.5,"v":1.312},{"s":6,"t":27,"v":1.313},{"s":6,"t":27.5,"v":1.312},{"s":6,"t":28,"v":1.311},{"s":6,"t":28.5,"v":1.311},{"s":6,"t":29,"v":1.31},{"s":6,"t":29.5,"v":1.309},{"s":6,"t":30,"v":1.309},{"s":6,"t":30.5,"v":1.308},{"s":6,"t":31,"v":1.307},{"s":6,"t":31.5,"v":1.307},{"s":6,"t":32,"v":1.306},{"s":6,"t":32.5,"v":1.305},{"s":6,"t":33,"v":1.305},{"s":6,"t":33.5,"v":1.304},{"s":6,"t":34,"v":1.303},{"s":6,"t":34.5,"v":1.302},{"s":6,"t":35,"v":1.302},{"s":6,"t":35.5,"v":1.301},{"s":6,"t":36,"v":1.3},{"s":6,"t":36.5,"v":1.299},{"s":6,"t":37,"v":1.298},{"s":6,"t":37.5,"v":1.297},{"s":6,"t":38,"v":1.296},{"s":6,"t":38.5,"v":1.295},{"s":6,"t":39,"v":1.294},{"s":6,"t":39.5,"v":1.294},{"s":6,"t":40,"v":1.292},{"s":6,"t":40.5,"v":1.285},{"s":6,"t":41,"v":1.278},{"s":6,"t":41.5,"v":1.27},{"s":6,"t":42,"v":1.262},{"s":6,"t":42.5,"v":1.245},{"s":6,"t":43,"v":1.226},{"s":6,"t":43.5,"v":1.205},{"s":6,"t":44,"v":1.184},{"s":6,"t":44.5,"v":1.168},{"s":6,"t":45,"v":1.148},{"s":6,"t":45.5,"v":1.132},{"s":6,"t":46,"v":1.122},{"s":6,"t":46.5,"v":1.115},{"s":6,"t":47,"v":1.108},{"s":6,"t":47.5,"v":1.102},{"s":6,"t":48,"v":1.097},
{"s":7,"t":0,"v":1.12},{"s":7,"t":0.5,"v":1.3},{"s":7,"t":1,"v":1.318},{"s":7,"t":1.5,"v":1.324},{"s":7,"t":2,"v":1.326},{"s":7,"t":2.5,"v":1.327},{"s":7,"t":3,"v":1.328},{"s":7,"t":3.5,"v":1.328},{"s":7,"t":4,"v":1.329},{"s":7,"t":4.5,"v":1.33},{"s":7,"t":5,"v":1.329},{"s":7,"t":5.5,"v":1.33},{"s":7,"t":6,"v":1.331},{"s":7,"t":6.5,"v":1.33},{"s":7,"t":7,"v":1.331},{"s":7,"t":7.5,"v":1.33},{"s":7,"t":8,"v":1.331},{"s":7,"t":8.5,"v":1.332},{"s":7,"t":9,"v":1.331},{"s":7,"t":9.5,"v":1.33},{"s":7,"t":10,"v":1.331},{"s":7,"t":10.5,"v":1.332},{"s":7,"t":11,"v":1.331},{"s":7,"t":11.5,"v":1.33},{"s":7,"t":12,"v":1.331},{"s":7,"t":12.5,"v":1.33},{"s":7,"t":13,"v":1.331},{"s":7,"t":13.5,"v":1.33},{"s":7,"t":14,"v":1.331},{"s":7,"t":14.5,"v":1.33},{"s":7,"t":15,"v":1.33},{"s":7,"t":15.5,"v":1.329},{"s":7,"t":16,"v":1.33},{"s":7,"t":16.5,"v":1.329},{"s":7,"t":17,"v":1.329},{"s":7,"t":17.5,"v":1.328},{"s":7,"t":18,"v":1.328},{"s":7,"t":18.5,"v":1.327},{"s":7,"t":19,"v":1.327},{"s":7,"t":19.5,"v":1.326},{"s":7,"t":20,"v":1.326},{"s":7,"t":20.5,"v":1.325},{"s":7,"t":21,"v":1.324},{"s":7,"t":21.5,"v":1.323},{"s":7,"t":22,"v":1.322},{"s":7,"t":22.5,"v":1.321},{"s":7,"t":23,"v":1.32},{"s":7,"t":23.5,"v":1.318},{"s":7,"t":24,"v":1.317},{"s":7,"t":24.5,"v":1.315},{"s":7,"t":25,"v":1.314},{"s":7,"t":25.5,"v":1.313},{"s":7,"t":26,"v":1.313},{"s":7,"t":26.2,"v":1.217},{"s":7,"t":26.2,"v":1.192},{"s":7,"t":26.3,"v":1.163},{"s":7,"t":26.5,"v":1.312},{"s":7,"t":27,"v":1.312},{"s":7,"t":27.5,"v":1.311},{"s":7,"t":28,"v":1.31},{"s":7,"t":28.5,"v":1.31},{"s":7,"t":29,"v":1.309},{"s":7,"t":29.5,"v":1.309},{"s":7,"t":30,"v":1.308},{"s":7,"t":30.5,"v":1.307},{"s":7,"t":31,"v":1.307},{"s":7,"t":31.5,"v":1.306},{"s":7,"t":32,"v":1.305},{"s":7,"t":32.5,"v":1.304},{"s":7,"t":33,"v":1.303},{"s":7,"t":33.5,"v":1.301},{"s":7,"t":34,"v":1.3},{"s":7,"t":34.5,"v":1.297},{"s":7,"t":35,"v":1.294},{"s":7,"t":35.5,"v":1.291},{"s":7,"t":36,"v":1.288},{"s":7,"t":36.5,"v":1.283},{"s":7,"t":37,"v":1.278},{"s":7,"t":37.5,"v":1.27},{"s":7,"t":38,"v":1.262},{"s":7,"t":38.5,"v":1.25},{"s":7,"t":39,"v":1.24},{"s":7,"t":39.5,"v":1.228},{"s":7,"t":40,"v":1.217},{"s":7,"t":40.5,"v":1.203},{"s":7,"t":41,"v":1.19},{"s":7,"t":41.5,"v":1.178},{"s":7,"t":42,"v":1.166},{"s":7,"t":42.5,"v":1.158},{"s":7,"t":43,"v":1.148},{"s":7,"t":43.5,"v":1.14},{"s":7,"t":44,"v":1.134},{"s":7,"t":44.5,"v":1.128},{"s":7,"t":45,"v":1.123},{"s":7,"t":45.5,"v":1.118},{"s":7,"t":46,"v":1.113},{"s":7,"t":46.5,"v":1.109},{"s":7,"t":47,"v":1.105},{"s":7,"t":47.5,"v":1.102},{"s":7,"t":48,"v":1.099},
{"s":8,"t":0,"v":1.22},{"s":8,"t":0.5,"v":1.245},{"s":8,"t":1,"v":1.258},{"s":8,"t":1.5,"v":1.265},{"s":8,"t":2,"v":1.27},{"s":8,"t":2.5,"v":1.272},{"s":8,"t":3,"v":1.274},{"s":8,"t":3.5,"v":1.275},{"s":8,"t":4,"v":1.276},{"s":8,"t":4.5,"v":1.277},{"s":8,"t":5,"v":1.278},{"s":8,"t":5.5,"v":1.277},{"s":8,"t":6,"v":1.279},{"s":8,"t":6.5,"v":1.278},{"s":8,"t":7,"v":1.279},{"s":8,"t":7.5,"v":1.28},{"s":8,"t":8,"v":1.279},{"s":8,"t":8.5,"v":1.28},{"s":8,"t":9,"v":1.279},{"s":8,"t":9.5,"v":1.28},{"s":8,"t":10,"v":1.281},{"s":8,"t":10.5,"v":1.28},{"s":8,"t":11,"v":1.279},{"s":8,"t":11.5,"v":1.28},{"s":8,"t":12,"v":1.281},{"s":8,"t":12.5,"v":1.28},{"s":8,"t":13,"v":1.279},{"s":8,"t":13.5,"v":1.28},{"s":8,"t":14,"v":1.279},{"s":8,"t":14.5,"v":1.28},{"s":8,"t":15,"v":1.279},{"s":8,"t":15.5,"v":1.278},{"s":8,"t":16,"v":1.279},{"s":8,"t":16.5,"v":1.278},{"s":8,"t":17,"v":1.279},{"s":8,"t":17.5,"v":1.278},{"s":8,"t":18,"v":1.277},{"s":8,"t":18.5,"v":1.278},{"s":8,"t":19,"v":1.277},{"s":8,"t":19.5,"v":1.276},{"s":8,"t":20,"v":1.277},{"s":8,"t":20.5,"v":1.276},{"s":8,"t":21,"v":1.277},{"s":8,"t":21.5,"v":1.276},{"s":8,"t":22,"v":1.275},{"s":8,"t":22.5,"v":1.276},{"s":8,"t":23,"v":1.275},{"s":8,"t":23.5,"v":1.274},{"s":8,"t":24,"v":1.275},{"s":8,"t":24.5,"v":1.274},{"s":8,"t":25,"v":1.273},{"s":8,"t":25.5,"v":1.274},{"s":8,"t":26,"v":1.273},{"s":8,"t":26.5,"v":1.272},{"s":8,"t":27,"v":1.271},{"s":8,"t":27.5,"v":1.271},{"s":8,"t":28,"v":1.27},{"s":8,"t":28.5,"v":1.27},{"s":8,"t":29,"v":1.269},{"s":8,"t":29.5,"v":1.268},{"s":8,"t":30,"v":1.268},{"s":8,"t":30.5,"v":1.267},{"s":8,"t":31,"v":1.266},{"s":8,"t":31.5,"v":1.265},{"s":8,"t":32,"v":1.264},{"s":8,"t":32.5,"v":1.263},{"s":8,"t":33,"v":1.262},{"s":8,"t":33.5,"v":1.261},{"s":8,"t":34,"v":1.259},{"s":8,"t":34.5,"v":1.258},{"s":8,"t":35,"v":1.256},{"s":8,"t":35.5,"v":1.253},{"s":8,"t":36,"v":1.25},{"s":8,"t":36.5,"v":1.247},{"s":8,"t":37,"v":1.243},{"s":8,"t":37.5,"v":1.239},{"s":8,"t":38,"v":1.235},{"s":8,"t":38.5,"v":1.228},{"s":8,"t":39,"v":1.22},{"s":8,"t":39.5,"v":1.21},{"s":8,"t":40,"v":1.2},{"s":8,"t":40.5,"v":1.19},{"s":8,"t":41,"v":1.18},{"s":8,"t":41.5,"v":1.17},{"s":8,"t":42,"v":1.16},{"s":8,"t":42.5,"v":1.149},{"s":8,"t":43,"v":1.138},{"s":8,"t":43.5,"v":1.127},{"s":8,"t":44,"v":1.117},{"s":8,"t":44.5,"v":1.107},{"s":8,"t":45,"v":1.097},{"s":8,"t":45.5,"v":1.088},{"s":8,"t":46,"v":1.08},{"s":8,"t":46.5,"v":1.075},{"s":8,"t":47,"v":1.072},{"s":8,"t":47.5,"v":1.068},{"s":8,"t":48,"v":1.065},
{"s":9,"t":0,"v":1.25},{"s":9,"t":0.5,"v":1.28},{"s":9,"t":1,"v":1.3},{"s":9,"t":1.5,"v":1.308},{"s":9,"t":2,"v":1.312},{"s":9,"t":2.5,"v":1.314},{"s":9,"t":3,"v":1.315},{"s":9,"t":3.5,"v":1.316},{"s":9,"t":4,"v":1.317},{"s":9,"t":4.5,"v":1.316},{"s":9,"t":5,"v":1.318},{"s":9,"t":5.5,"v":1.317},{"s":9,"t":6,"v":1.318},{"s":9,"t":6.5,"v":1.317},{"s":9,"t":7,"v":1.318},{"s":9,"t":7.5,"v":1.319},{"s":9,"t":8,"v":1.318},{"s":9,"t":8.5,"v":1.317},{"s":9,"t":9,"v":1.318},{"s":9,"t":9.5,"v":1.317},{"s":9,"t":10,"v":1.318},{"s":9,"t":10.5,"v":1.319},{"s":9,"t":11,"v":1.318},{"s":9,"t":11.5,"v":1.317},{"s":9,"t":12,"v":1.318},{"s":9,"t":12.5,"v":1.317},{"s":9,"t":13,"v":1.316},{"s":9,"t":13.5,"v":1.317},{"s":9,"t":14,"v":1.316},{"s":9,"t":14.5,"v":1.317},{"s":9,"t":15,"v":1.316},{"s":9,"t":15.5,"v":1.315},{"s":9,"t":16,"v":1.316},{"s":9,"t":16.5,"v":1.315},{"s":9,"t":17,"v":1.316},{"s":9,"t":17.5,"v":1.315},{"s":9,"t":18,"v":1.314},{"s":9,"t":18.5,"v":1.315},{"s":9,"t":19,"v":1.314},{"s":9,"t":19.5,"v":1.313},{"s":9,"t":20,"v":1.314},{"s":9,"t":20.5,"v":1.313},{"s":9,"t":21,"v":1.313},{"s":9,"t":21.5,"v":1.312},{"s":9,"t":22,"v":1.313},{"s":9,"t":22.5,"v":1.312},{"s":9,"t":23,"v":1.311},{"s":9,"t":23.5,"v":1.312},{"s":9,"t":24,"v":1.311},{"s":9,"t":24.5,"v":1.31},{"s":9,"t":25,"v":1.311},{"s":9,"t":25.5,"v":1.31},{"s":9,"t":26,"v":1.309},{"s":9,"t":26.5,"v":1.31},{"s":9,"t":27,"v":1.309},{"s":9,"t":27.5,"v":1.308},{"s":9,"t":28,"v":1.308},{"s":9,"t":28.5,"v":1.307},{"s":9,"t":29,"v":1.307},{"s":9,"t":29.5,"v":1.306},{"s":9,"t":30,"v":1.306},{"s":9,"t":30.5,"v":1.305},{"s":9,"t":31,"v":1.305},{"s":9,"t":31.5,"v":1.304},{"s":9,"t":32,"v":1.304},{"s":9,"t":32.5,"v":1.303},{"s":9,"t":33,"v":1.303},{"s":9,"t":33.5,"v":1.302},{"s":9,"t":34,"v":1.302},{"s":9,"t":34.5,"v":1.301},{"s":9,"t":35,"v":1.301},{"s":9,"t":35.5,"v":1.3},{"s":9,"t":36,"v":1.3},{"s":9,"t":36.5,"v":1.299},{"s":9,"t":37,"v":1.299},{"s":9,"t":37.5,"v":1.298},{"s":9,"t":38,"v":1.298},{"s":9,"t":38.5,"v":1.297},{"s":9,"t":39,"v":1.297},{"s":9,"t":39.5,"v":1.296},{"s":9,"t":40,"v":1.295},{"s":9,"t":40.5,"v":1.293},{"s":9,"t":41,"v":1.291},{"s":9,"t":41.5,"v":1.289},{"s":9,"t":42,"v":1.287},{"s":9,"t":42.5,"v":1.285},{"s":9,"t":43,"v":1.283},{"s":9,"t":43.5,"v":1.281},{"s":9,"t":44,"v":1.279},{"s":9,"t":44.5,"v":1.277},{"s":9,"t":45,"v":1.274},{"s":9,"t":45.5,"v":1.271},{"s":9,"t":46,"v":1.268},{"s":9,"t":46.5,"v":1.265},{"s":9,"t":47,"v":1.262},{"s":9,"t":47.5,"v":1.259},{"s":9,"t":48,"v":1.256},
{"s":10,"t":0,"v":1.2},{"s":10,"t":0.5,"v":1.24},{"s":10,"t":1,"v":1.27},{"s":10,"t":1.5,"v":1.285},{"s":10,"t":2,"v":1.293},{"s":10,"t":2.5,"v":1.298},{"s":10,"t":3,"v":1.3},{"s":10,"t":3.5,"v":1.302},{"s":10,"t":4,"v":1.303},{"s":10,"t":4.5,"v":1.304},{"s":10,"t":5,"v":1.303},{"s":10,"t":5.5,"v":1.305},{"s":10,"t":6,"v":1.304},{"s":10,"t":6.5,"v":1.305},{"s":10,"t":7,"v":1.304},{"s":10,"t":7.5,"v":1.305},{"s":10,"t":8,"v":1.304},{"s":10,"t":8.5,"v":1.305},{"s":10,"t":9,"v":1.304},{"s":10,"t":9.5,"v":1.303},{"s":10,"t":10,"v":1.304},{"s":10,"t":10.5,"v":1.303},{"s":10,"t":11,"v":1.304},{"s":10,"t":11.5,"v":1.303},{"s":10,"t":12,"v":1.304},{"s":10,"t":12.5,"v":1.303},{"s":10,"t":13,"v":1.302},{"s":10,"t":13.5,"v":1.303},{"s":10,"t":14,"v":1.302},{"s":10,"t":14.5,"v":1.303},{"s":10,"t":15,"v":1.302},{"s":10,"t":15.5,"v":1.301},{"s":10,"t":16,"v":1.302},{"s":10,"t":16.5,"v":1.301},{"s":10,"t":17,"v":1.302},{"s":10,"t":17.5,"v":1.301},{"s":10,"t":18,"v":1.3},{"s":10,"t":18.5,"v":1.301},{"s":10,"t":19,"v":1.3},{"s":10,"t":19.5,"v":1.301},{"s":10,"t":20,"v":1.3},{"s":10,"t":20.5,"v":1.299},{"s":10,"t":21,"v":1.3},{"s":10,"t":21.5,"v":1.299},{"s":10,"t":22,"v":1.299},{"s":10,"t":22.5,"v":1.298},{"s":10,"t":23,"v":1.299},{"s":10,"t":23.5,"v":1.298},{"s":10,"t":24,"v":1.298},{"s":10,"t":24.5,"v":1.297},{"s":10,"t":25,"v":1.298},{"s":10,"t":25.5,"v":1.297},{"s":10,"t":26,"v":1.297},{"s":10,"t":26.5,"v":1.296},{"s":10,"t":27,"v":1.297},{"s":10,"t":27.5,"v":1.296},{"s":10,"t":28,"v":1.296},{"s":10,"t":28.5,"v":1.295},{"s":10,"t":29,"v":1.296},{"s":10,"t":29.5,"v":1.295},{"s":10,"t":30,"v":1.295},{"s":10,"t":30.5,"v":1.294},{"s":10,"t":31,"v":1.294},{"s":10,"t":31.5,"v":1.293},{"s":10,"t":32,"v":1.293},{"s":10,"t":32.5,"v":1.292},{"s":10,"t":33,"v":1.292},{"s":10,"t":33.5,"v":1.291},{"s":10,"t":34,"v":1.291},{"s":10,"t":34.5,"v":1.29},{"s":10,"t":35,"v":1.29},{"s":10,"t":35.5,"v":1.289},{"s":10,"t":36,"v":1.289},{"s":10,"t":36.5,"v":1.288},{"s":10,"t":37,"v":1.287},{"s":10,"t":37.5,"v":1.286},{"s":10,"t":38,"v":1.285},{"s":10,"t":38.5,"v":1.284},{"s":10,"t":39,"v":1.283},{"s":10,"t":39.5,"v":1.282},{"s":10,"t":40,"v":1.281},{"s":10,"t":40.5,"v":1.28},{"s":10,"t":41,"v":1.279},{"s":10,"t":41.5,"v":1.278},{"s":10,"t":42,"v":1.276},{"s":10,"t":42.5,"v":1.273},{"s":10,"t":43,"v":1.27},{"s":10,"t":43.5,"v":1.268},{"s":10,"t":44,"v":1.265},{"s":10,"t":44.5,"v":1.262},{"s":10,"t":45,"v":1.258},{"s":10,"t":45.5,"v":1.254},{"s":10,"t":46,"v":1.25},{"s":10,"t":46.5,"v":1.247},{"s":10,"t":47,"v":1.244},{"s":10,"t":47.5,"v":1.242},{"s":10,"t":48,"v":1.24}
]
},
"hconcat":[
{
"title":"Corrente MFC 1 (mA)",
"width":408,"height":479,
"data":{"name":"m1"},
"mark":{"type":"circle","size":12,"opacity":1,"clip":true},
"encoding":{
"x":{"field":"t","type":"quantitative","scale":{"domain":[0,48],"nice":false},"axis":{"values":[0,10,20,30,40],"title":"Tempo (h)","format":"d"}},
"y":{"field":"v","type":"quantitative","scale":{"domain":[1.15,1.55],"nice":false,"zero":false},"axis":{"values":[1.15,1.2,1.25,1.3,1.35,1.4,1.45,1.5,1.55],"format":"~g","title":null}},
"color":{"field":"s","type":"nominal","scale":{"domain":[1,2,3,4,5,6,7,8,9,10],"range":["#0072BD","#D95319","#EDB120","#7E2F8E","#77AC30","#4DBEEE","#A2142F","#0072BD","#D95319","#EDB120"]},"legend":null}
}
},
{
"title":"Corrente MFC 2 (mA)",
"width":408,"height":479,
"data":{"name":"m2"},
"mark":{"type":"circle","size":12,"opacity":1,"clip":true},
"encoding":{
"x":{"field":"t","type":"quantitative","scale":{"domain":[0,48],"nice":false},"axis":{"values":[0,10,20,30,40],"title":"Tempo (h)","format":"d"}},
"y":{"field":"v","type":"quantitative","scale":{"domain":[0.2,1.4],"nice":false,"zero":false},"axis":{"values":[0.2,0.4,0.6,0.8,1,1.2,1.4],"format":"~g","title":null}},
"color":{"field":"s","type":"nominal","scale":{"domain":[1,2,3,4,5,6,7,8,9,10],"range":["#0072BD","#D95319","#EDB120","#7E2F8E","#77AC30","#4DBEEE","#A2142F","#0072BD","#D95319","#EDB120"]},"legend":null}
}
}
]
}
